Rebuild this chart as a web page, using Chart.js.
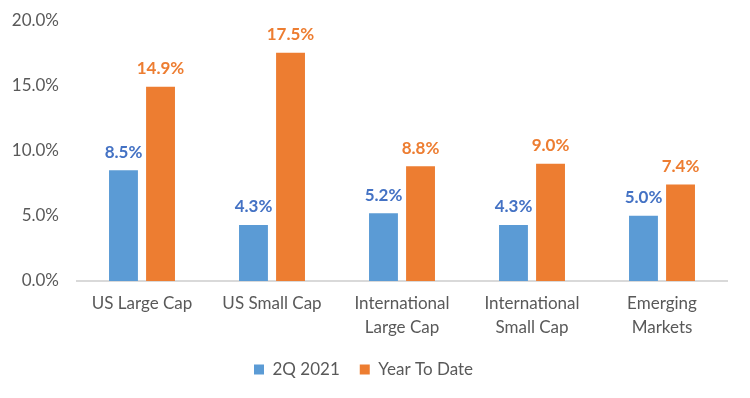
<!DOCTYPE html>
<html>
<head>
<meta charset="utf-8">
<script src="https://cdn.jsdelivr.net/npm/chart.js@4"></script>
<style>
  html, body { margin: 0; padding: 0; background: #fff; }
  #wrap { width: 750px; height: 398px; }
</style>
</head>
<body>
<div id="wrap"><canvas id="returnsChart"></canvas></div>
<script>
const categories = [
    ['US Large Cap'],
    ['US Small Cap'],
    ['International', 'Large Cap'],
    ['International', 'Small Cap'],
    ['Emerging', 'Markets']
];
const quarterValues = [8.5, 4.3, 5.2, 4.3, 5.0];
const ytdValues = [14.9, 17.5, 8.8, 9.0, 7.4];
const seriesNames = ['2Q 2021', 'Year To Date'];
const tickValues = [0, 5, 10, 15, 20];

const FONT = 'Lato, "Open Sans", sans-serif';

// draws the value above each bar
const barLabels = {
    id: 'barLabels',
    afterDatasetsDraw(chart) {
        const ctx = chart.ctx;
        ctx.save();
        ctx.font = 'bold 17px ' + FONT;
        ctx.textAlign = 'center';
        ctx.textBaseline = 'middle';
        chart.data.datasets.forEach((ds, i) => {
            ctx.fillStyle = ds.labelColor;
            chart.getDatasetMeta(i).data.forEach((bar, j) => {
                ctx.fillText(ds.data[j].toFixed(1) + '%', bar.x, bar.y - 18);
            });
        });
        ctx.restore();
    }
};

new Chart(document.getElementById('returnsChart').getContext('2d'), {
    type: 'bar',
    data: {
        labels: categories,
        datasets: [{
            label: seriesNames[0],
            data: quarterValues,
            backgroundColor: '#5b9bd5',
            labelColor: '#4472c4'
        }, {
            label: seriesNames[1],
            data: ytdValues,
            backgroundColor: '#ed7d31',
            labelColor: '#ed7d31'
        }]
    },
    options: {
        responsive: true,
        maintainAspectRatio: false,
        animation: false,
        datasets: {
            bar: {
                barPercentage: 0.78,
                categoryPercentage: 0.57
            }
        },
        layout: {
            padding: { top: 10, right: 23, left: 0, bottom: 10 }
        },
        plugins: {
            legend: {
                position: 'bottom',
                labels: {
                    boxWidth: 10,
                    boxHeight: 10,
                    padding: 20,
                    color: '#595959',
                    font: { family: FONT, size: 17 }
                }
            },
            tooltip: { enabled: false }
        },
        scales: {
            x: {
                grid: { display: false },
                border: { color: '#d9d9d9', width: 2 },
                ticks: {
                    color: '#595959',
                    padding: 3,
                    font: { family: FONT, size: 17, lineHeight: 1.38 }
                },
                afterFit(scale) { scale.height = 60; }
            },
            y: {
                min: 0,
                max: 20,
                grid: { display: false },
                border: { display: false },
                afterBuildTicks(scale) {
                    scale.ticks = tickValues.map(v => ({ value: v }));
                },
                ticks: {
                    color: '#595959',
                    padding: 10,
                    font: { family: FONT, size: 17 },
                    callback: v => v.toFixed(1) + '%'
                },
                afterFit(scale) { scale.width = 77; }
            }
        }
    },
    plugins: [barLabels]
});
</script>
</body>
</html>
